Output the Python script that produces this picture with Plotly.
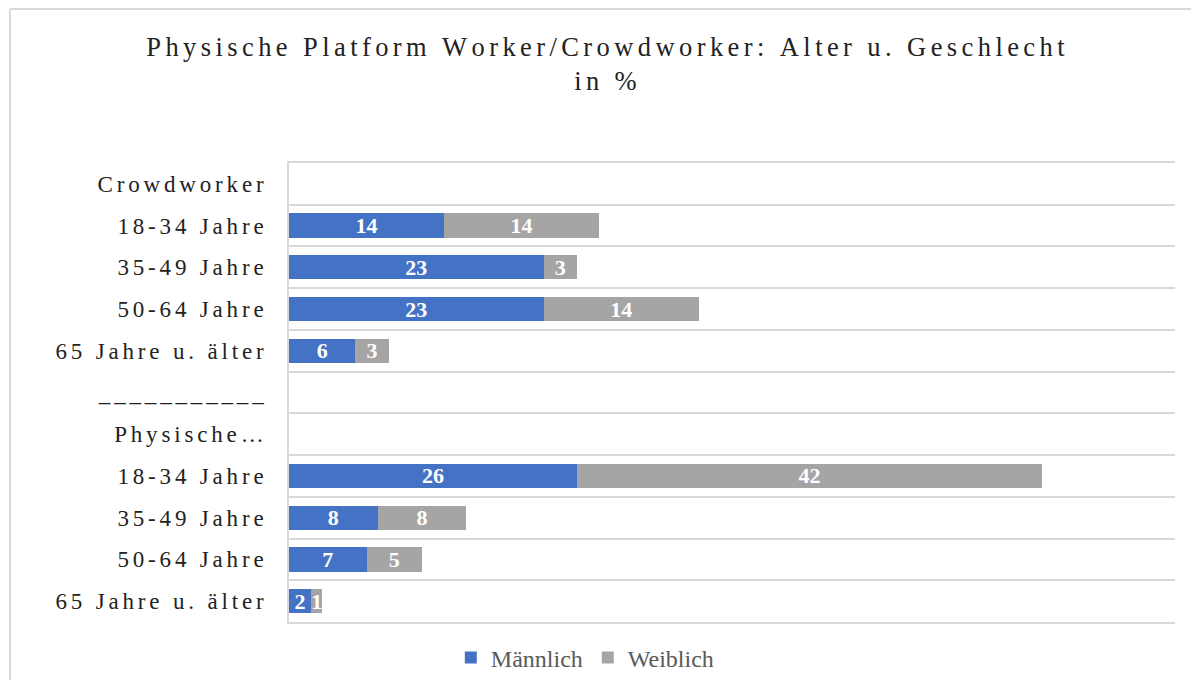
import plotly.graph_objects as go

# rows from top to bottom, as in the reference
row_labels = ['Crowdworker', '18-34 Jahre', '35-49 Jahre', '50-64 Jahre', '65 Jahre u. älter',
              '___________',
              'Physische…', '18-34 Jahre', '35-49 Jahre', '50-64 Jahre', '65 Jahre u. älter']
maennlich = [None, 14, 23, 23, 6, None, None, 26, 8, 7, 2]
weiblich = [None, 14, 3, 14, 3, None, None, 42, 8, 5, 1]

BLUE = '#4472C4'
GREY = '#A5A5A5'
GRID = '#D9D9D9'
FONT = 'Liberation Serif'

# page body has an 8px margin, so the figure is a bit smaller than the window
W, H = 1183, 672
L, R, T, B = 281, 16, 155, 58


def spaced(s, gap='\u2006'):
    # Excel label has expanded character spacing, mimic with narrow spaces
    return gap.join(list(s))


# category keys must be unique, the second group gets a zero width suffix
cats = []
for lab in row_labels:
    key = spaced(lab)
    while key in cats:
        key += '\u200b'
    cats.append(key)

label_font = dict(family=FONT, size=22, color='white', weight='bold')

fig = go.Figure()
fig.add_trace(go.Bar(y=cats, x=maennlich, name='Männlich', orientation='h',
                     marker=dict(color=BLUE, line=dict(width=0)),
                     texttemplate='%{x}', textposition='inside', insidetextanchor='middle',
                     textangle=0, constraintext='none', textfont=label_font))
fig.add_trace(go.Bar(y=cats, x=weiblich, name='Weiblich', orientation='h',
                     marker=dict(color=GREY, line=dict(width=0)),
                     texttemplate='%{x}', textposition='inside', insidetextanchor='middle',
                     textangle=0, constraintext='none', textfont=label_font))

title_txt = spaced('Physische Platform Worker/Crowdworker: Alter u. Geschlecht') + '<br>' + spaced('in %')

fig.update_layout(
    width=W, height=H,
    barmode='stack', bargap=0.42,
    paper_bgcolor='white', plot_bgcolor='white',
    margin=dict(l=L, r=R, t=T, b=B),
    font=dict(family=FONT, color='#222222'),
    title=dict(text=title_txt, x=0.505, xref='container', xanchor='center',
               y=0.929, yref='container', yanchor='top',
               font=dict(family=FONT, size=26.5, color='#222222')),
    uniformtext=dict(minsize=20, mode='show'),
    legend=dict(orientation='h', x=0.488, xref='container', xanchor='center',
                y=0.033, yref='container', yanchor='middle',
                font=dict(family=FONT, size=24, color='#595959'),
                traceorder='normal'),
    xaxis=dict(range=[0, 80], showgrid=False, zeroline=False, showticklabels=False,
               showline=True, mirror=True, linecolor=GRID, linewidth=1.5, ticks=''),
    yaxis=dict(type='category', categoryorder='array', categoryarray=cats,
               autorange='reversed', tickson='boundaries', showgrid=True,
               gridcolor=GRID, gridwidth=1.5, showline=True, linecolor=GRID, linewidth=1.5,
               ticks='', ticklabelstandoff=19,
               tickfont=dict(family=FONT, size=23, color='#222222')),
)

# chart area frame: only the left and top edges are visible in the reference
pw, ph = W - L - R, H - T - B
x_left = (2 - L) / pw
y_top = (ph + T - 1) / ph
fig.add_shape(type='line', xref='paper', yref='paper',
              x0=x_left, x1=x_left, y0=-(B + 10) / ph, y1=y_top,
              line=dict(color=GRID, width=2), layer='below')
fig.add_shape(type='line', xref='paper', yref='paper',
              x0=x_left, x1=(W + 10 - L) / pw, y0=y_top, y1=y_top,
              line=dict(color=GRID, width=2), layer='below')

fig.write_html('out.html')
